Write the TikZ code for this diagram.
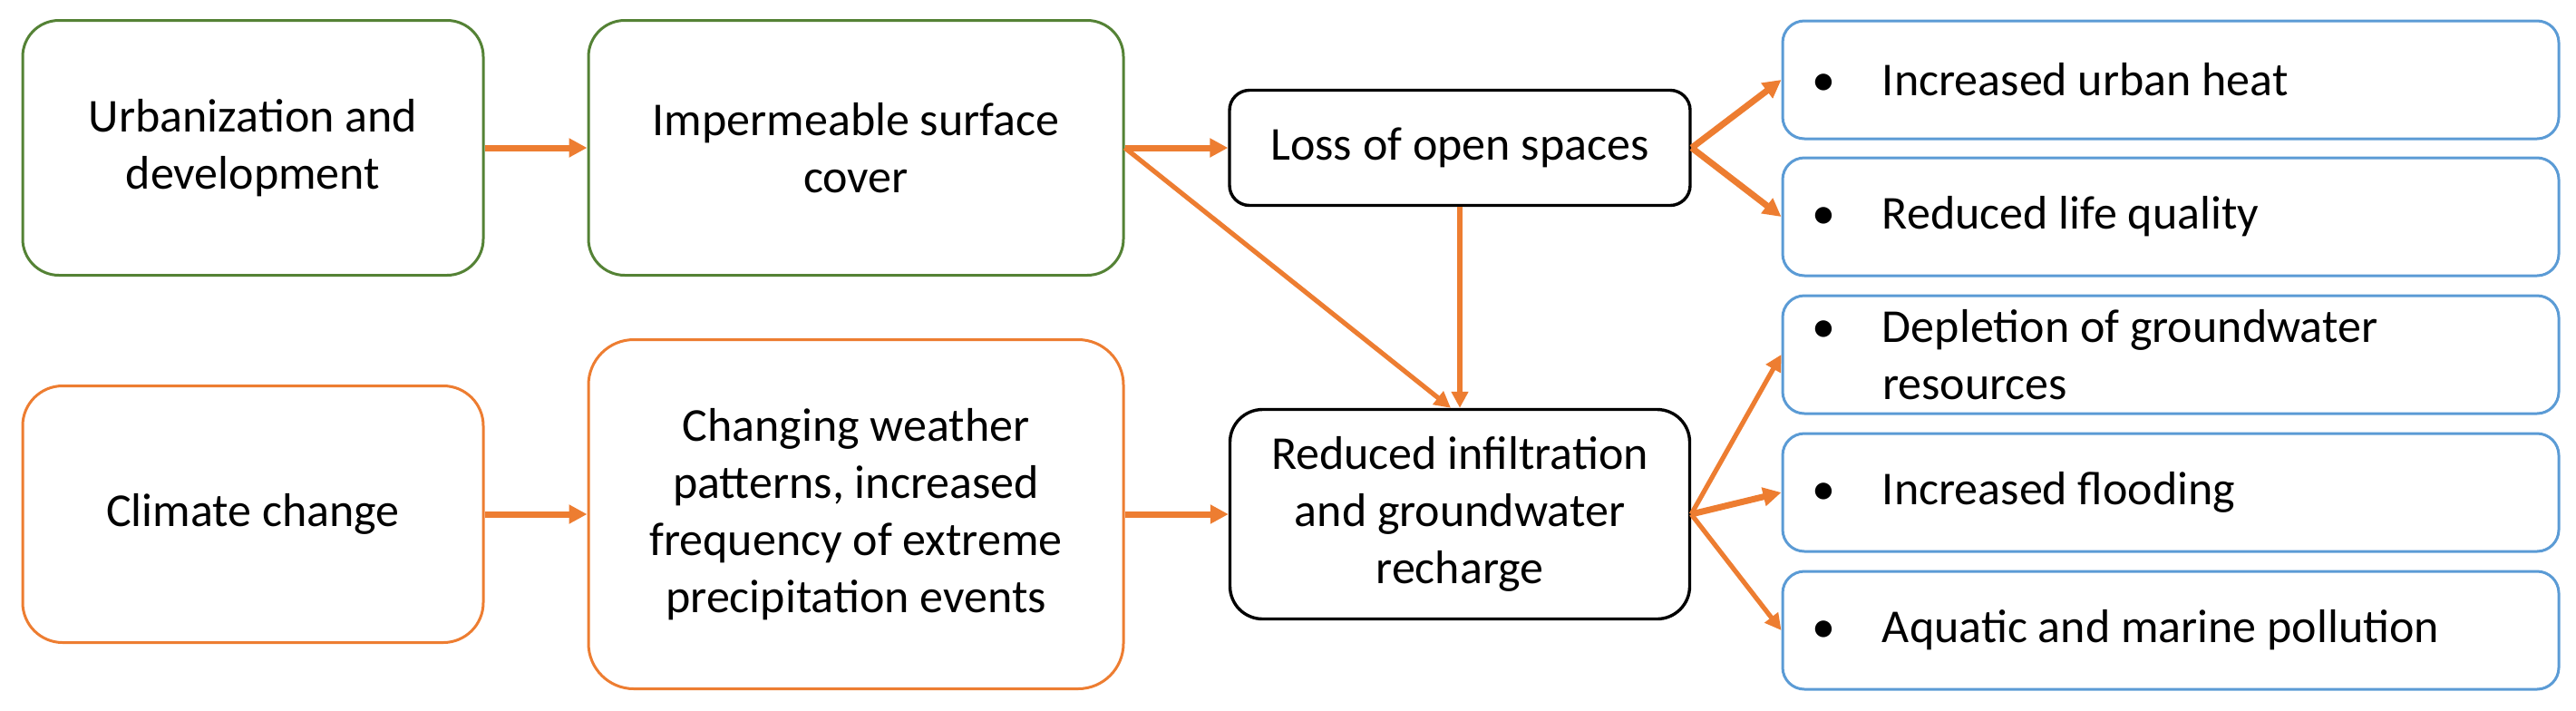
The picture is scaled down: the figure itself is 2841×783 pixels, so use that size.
\documentclass[tikz,border=0pt]{standalone}
\usepackage{fontspec}
\setmainfont{Carlito}
\usetikzlibrary{arrows.meta}
\definecolor{grn}{HTML}{548235}
\definecolor{org}{HTML}{ED7D31}
\definecolor{blu}{HTML}{5B9BD5}
\begin{document}
\begin{tikzpicture}[x=0.5pt,y=-0.5pt,
  base/.style={draw, line width=1.5pt, align=center, inner sep=0pt,
    font=\fontsize{26}{31.5}\selectfont, fill=white},
  gbox/.style={base, draw=grn, rounded corners=20pt},
  obox/.style={base, draw=org, rounded corners=22pt},
  kbox/.style={base, draw=black, line width=1.7pt},
  rbox/.style={base, draw=blu, rounded corners=12pt, minimum width=428pt,
    minimum height=65pt, text width=396pt, inner xsep=16pt, align=flush left},
  arr/.style={draw=org, line width=3.5pt, -{Triangle[length=10pt,width=10pt]}},
  thinarr/.style={arr, line width=2.6pt, -{Triangle[length=9pt,width=9pt]}},
]
\useasboundingbox (0,0) rectangle (2841,783);

\node[gbox, minimum width=254pt, minimum height=140.5pt] (b1) at (279,163) {Urbanization and\\development};
\node[gbox, minimum width=295pt, minimum height=140.5pt] (b2) at (944,163) {Impermeable surface\\cover};
\node[kbox, rounded corners=11pt, minimum width=254pt, minimum height=63.5pt] (b3) at (1610,163) {Loss of open spaces};
\node[obox, minimum width=254pt, minimum height=141.5pt] (b4) at (279,567) {Climate change};
\node[obox, rounded corners=25pt, minimum width=295pt, minimum height=192.5pt] (b5) at (944,567) {Changing weather\\patterns, increased\\frequency of extreme\\precipitation events};
\node[kbox, rounded corners=18pt, minimum width=253.5pt, minimum height=115.5pt] (b6) at (1610,567) {Reduced infiltration\\and groundwater\\recharge};

\node[rbox] (r1) at (2394,88) {\makebox[39pt][l]{•}Increased urban heat};
\node[rbox] (r2) at (2394,239) {\makebox[39pt][l]{•}Reduced life quality};
\node[rbox] (r3) at (2394,391) {\makebox[39pt][l]{•}Depletion of groundwater\\\hspace*{39pt}resources};
\node[rbox] (r4) at (2394,543) {\makebox[39pt][l]{•}Increased flooding};
\node[rbox] (r5) at (2394,695) {\makebox[39pt][l]{•}Aquatic and marine pollution};

\draw[arr] (b1.east) -- (b2.west);
\draw[arr] (b2.east) -- (b3.west);
\draw[thinarr] (b2.east) -- ([xshift=-5pt]b6.north);
\draw[thinarr] (b3.south) -- (b6.north);
\draw[arr] (b3.east) -- (r1.west);
\draw[arr] (b3.east) -- (r2.west);
\draw[arr] (b4.east) -- (b5.west);
\draw[arr] (b5.east) -- (b6.west);
\draw[thinarr] (b6.east) -- (r3.west);
\draw[arr] (b6.east) -- (r4.west);
\draw[thinarr] (b6.east) -- (r5.west);
\end{tikzpicture}
\end{document}
